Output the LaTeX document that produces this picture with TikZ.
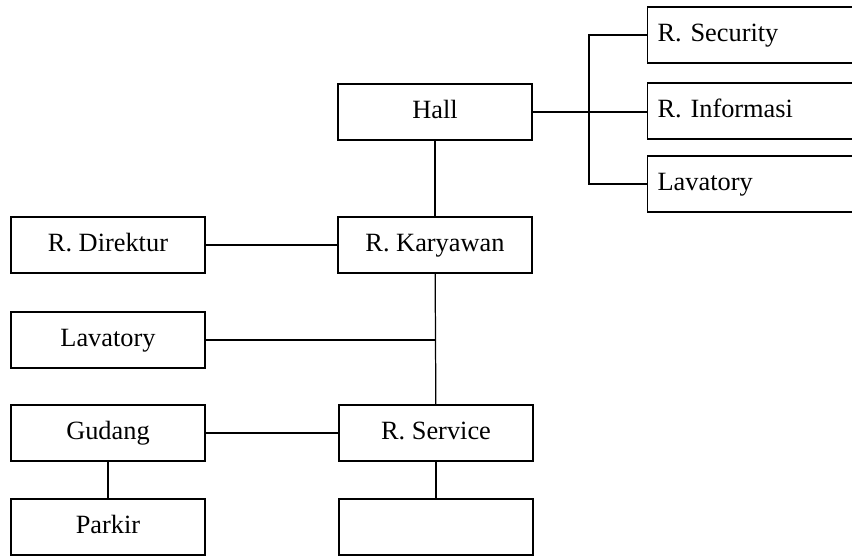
\documentclass[tikz,border=0pt]{standalone}
\usepackage{fontspec}
\setmainfont{Liberation Serif}
\usetikzlibrary{positioning}

\begin{document}
\begin{tikzpicture}[
    x=0.02cm, y=-0.02cm,
    line width=0.7pt,
    font=\fontsize{15}{17}\selectfont,
    box/.style={rectangle, draw, minimum width=3.88cm, minimum height=1.12cm, inner sep=0pt, text height=1.9ex, text depth=0.4ex},
    sidebox/.style={box, minimum width=4.6cm, text width=4.2cm, align=left}
]
\useasboundingbox (0,0) rectangle (852,557);
\clip (0,0) rectangle (852,557);

% main column
\node[box] (hall) at (435,112) {Hall};
\node[box] (kary) at (435,245) {R. Karyawan};
\node[box] (service) at (436,433) {R. Service};
\node[box] (blank) at (436,527) {};

% left column
\node[box] (direk) at (108,245) {R. Direktur};
\node[box] (lavkiri) at (108,340) {Lavatory};
\node[box] (gudang) at (108,433) {Gudang};
\node[box] (parkir) at (108,527) {Parkir};

% rooms off the hall
\node[sidebox, anchor=west] (security) at (647,35) {R. Security};
\node[sidebox, anchor=west] (info) at (647,111) {R. Informasi};
\node[sidebox, anchor=west] (lavkanan) at (647,184) {Lavatory};
\coordinate (br) at (589,0);

\draw (hall) -- (kary);
\draw (direk) -- (kary);
\draw (kary) -- (service);
\draw (lavkiri.east) -- (lavkiri.east -| kary.south);
\draw (gudang) -- (service);
\draw (gudang) -- (parkir);
\draw (service) -- (blank);

\draw (hall.east) -- (hall.east -| info.west);
\draw (security.west) -- (security.west -| br) -- (lavkanan.west -| br) -- (lavkanan.west);

\end{tikzpicture}
\end{document}
